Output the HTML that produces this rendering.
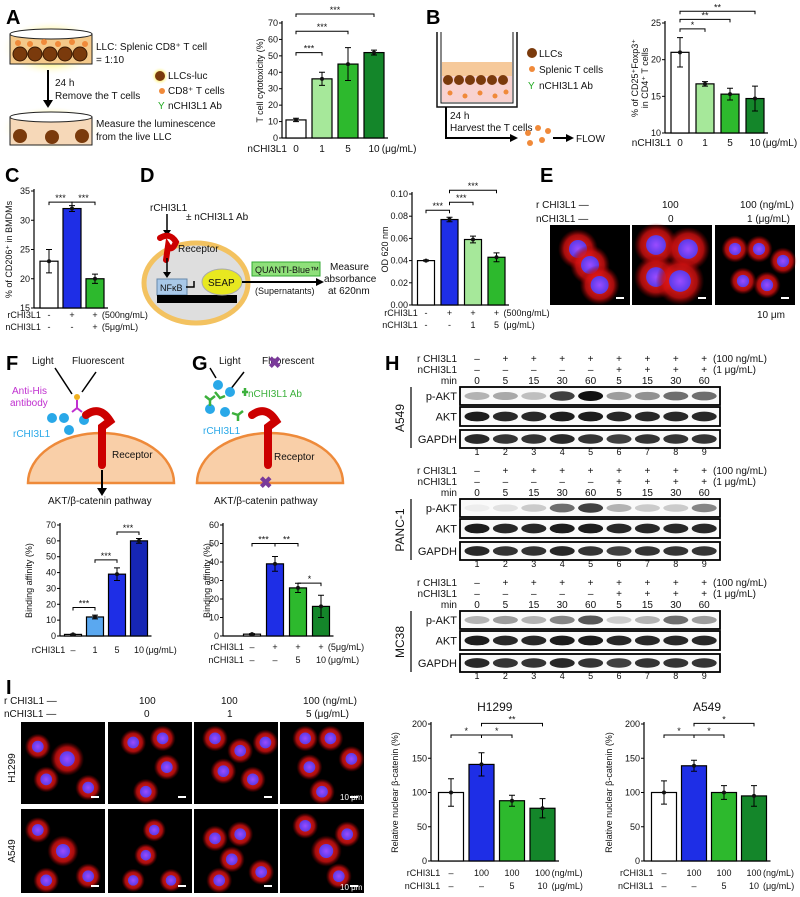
<!DOCTYPE html>
<html><head><meta charset="utf-8">
<style>
html,body{margin:0;padding:0;background:#fff;}
svg{display:block;font-family:"Liberation Sans",Arial,sans-serif;}
.t{font-size:10px;fill:#111;}
.s{font-size:9px;fill:#111;}
.pl{font-size:20px;font-weight:bold;fill:#000;}
</style></head>
<body>
<svg id="fig" width="800" height="897" viewBox="0 0 800 897" xmlns="http://www.w3.org/2000/svg">
<defs>
<radialGradient id="redblob"><stop offset="0" stop-color="#ff2a2a"/><stop offset="0.7" stop-color="#d01010" stop-opacity="0.8"/><stop offset="1" stop-color="#800" stop-opacity="0"/></radialGradient>
<radialGradient id="nuc"><stop offset="0" stop-color="#9a4cff"/><stop offset="1" stop-color="#5a3ae8"/></radialGradient>
<radialGradient id="glow"><stop offset="0.6" stop-color="#fff7a0"/><stop offset="1" stop-color="#fff" stop-opacity="0"/></radialGradient>
</defs>

<!-- panel letters -->
<g>
<text class="pl" x="6" y="24">A</text><text class="pl" x="426" y="24">B</text>
<text class="pl" x="5" y="182">C</text><text class="pl" x="140" y="182">D</text>
<text class="pl" x="540" y="182">E</text><text class="pl" x="6" y="370">F</text>
<text class="pl" x="192" y="370">G</text><text class="pl" x="385" y="370">H</text>
<text class="pl" x="6" y="694">I</text>
</g>

<!-- A schematic -->
<g>
<ellipse cx="51" cy="48" rx="50" ry="28" fill="url(#glow)"/>
<rect x="10" y="34" width="82" height="30" fill="#f4c98a" stroke="#222"/>
<ellipse cx="51" cy="34" rx="41" ry="5" fill="#fff" stroke="#222"/>
<g fill="#7a3a0c" stroke="#3a1a04"><circle cx="20" cy="54" r="7"/><circle cx="35" cy="54" r="7"/><circle cx="50" cy="54" r="7"/><circle cx="65" cy="54" r="7"/><circle cx="80" cy="54" r="7"/></g>
<g fill="#f08a3a"><circle cx="18" cy="43" r="3"/><circle cx="30" cy="44" r="3"/><circle cx="44" cy="42" r="3"/><circle cx="58" cy="44" r="3"/><circle cx="72" cy="42" r="3"/><circle cx="85" cy="44" r="3"/></g>
<text class="t" x="96" y="50">LLC: Splenic CD8⁺ T cell</text><text class="t" x="96" y="63">= 1:10</text>
<line x1="48" y1="70" x2="48" y2="102" stroke="#000" stroke-width="2"/><polygon points="43,100 53,100 48,108" fill="#000"/>
<text class="t" x="55" y="86">24 h</text><text class="t" x="55" y="99">Remove the T cells</text>
<circle cx="160" cy="76" r="9" fill="url(#glow)"/><circle cx="160" cy="76" r="5" fill="#7a3a0c"/><text class="t" x="168" y="79">LLCs-luc</text>
<circle cx="162" cy="91" r="3" fill="#f08a3a"/><text class="t" x="168" y="94">CD8⁺ T cells</text>
<text class="t" x="158" y="109" fill="#2a2" style="fill:#2a2">Y</text><text class="t" x="168" y="109">nCHI3L1 Ab</text>
<ellipse cx="51" cy="128" rx="50" ry="22" fill="url(#glow)"/>
<rect x="10" y="117" width="82" height="28" fill="#f6d8b8" stroke="#222"/>
<ellipse cx="51" cy="117" rx="41" ry="5" fill="#fff" stroke="#222"/>
<g fill="#7a3a0c"><circle cx="20" cy="136" r="7"/><circle cx="52" cy="137" r="7"/><circle cx="82" cy="136" r="7"/></g>
<text class="t" x="96" y="127">Measure the luminescence</text><text class="t" x="96" y="140">from the live LLC</text>
</g>

<!-- B schematic -->
<g>
<path d="M437,32 V107 H517 V32" fill="none" stroke="#111" stroke-width="1.5"/>
<path d="M441,32 V103 H513 V32" fill="none" stroke="#111" stroke-width="1"/>
<rect x="442" y="62" width="70" height="14" fill="#f6c99a"/>
<rect x="442" y="76" width="70" height="26" fill="#f8d2d0"/>
<g fill="#7a3a0c"><circle cx="448" cy="80" r="5"/><circle cx="459" cy="80" r="5"/><circle cx="470" cy="80" r="5"/><circle cx="481" cy="80" r="5"/><circle cx="492" cy="80" r="5"/><circle cx="503" cy="80" r="5"/></g>
<g fill="#f08a3a"><circle cx="450" cy="93" r="2.5"/><circle cx="465" cy="96" r="2.5"/><circle cx="480" cy="93" r="2.5"/><circle cx="495" cy="96" r="2.5"/><circle cx="506" cy="92" r="2.5"/></g>
<circle cx="532" cy="53" r="5" fill="#7a3a0c"/><text class="t" x="539" y="57">LLCs</text>
<circle cx="532" cy="69" r="3" fill="#f08a3a"/><text class="t" x="539" y="73">Splenic T cells</text>
<text class="t" x="528" y="89" style="fill:#2a2">Y</text><text class="t" x="539" y="89">nCHI3L1 Ab</text>
<path d="M446,107 V138 H512" fill="none" stroke="#000" stroke-width="2"/><polygon points="510,134 518,138 510,142" fill="#000"/>
<text class="t" x="450" y="119">24 h</text><text class="t" x="450" y="131">Harvest the T cells</text>
<g fill="#f08a3a"><circle cx="528" cy="133" r="3"/><circle cx="538" cy="128" r="3"/><circle cx="530" cy="143" r="3"/><circle cx="542" cy="140" r="3"/><circle cx="548" cy="131" r="3"/></g>
<line x1="553" y1="138" x2="568" y2="138" stroke="#000" stroke-width="2"/><polygon points="566,134 574,138 566,142" fill="#000"/>
<text class="t" x="576" y="142">FLOW</text>
</g>

<!-- D schematic -->
<g>
<text class="t" x="150" y="211">rCHI3L1</text><text class="t" x="186" y="220">± nCHI3L1 Ab</text>
<line x1="167" y1="214" x2="167" y2="232" stroke="#000" stroke-width="1.5"/><polygon points="163,230 171,230 167,236" fill="#000"/>
<ellipse cx="196" cy="283" rx="52" ry="40" fill="#dedede" stroke="#f3c260" stroke-width="5"/>
<path d="M160,238 q10,-6 16,4 q-4,10 -8,4 l-2,14" fill="none" stroke="#c00" stroke-width="6" stroke-linecap="round"/>
<text class="t" x="178" y="252">Receptor</text>
<line x1="167" y1="258" x2="167" y2="274" stroke="#000" stroke-width="1.5"/><polygon points="163,272 171,272 167,278" fill="#000"/>
<rect x="157" y="279" width="30" height="16" fill="#a8c8e8" stroke="#6688aa"/><text class="s" x="160" y="291">NFκB</text>
<rect x="157" y="295" width="80" height="8" fill="#000"/>
<path d="M186,287 h8 v-6" fill="none" stroke="#000" stroke-width="1.5"/>
<ellipse cx="222" cy="282" rx="20" ry="13" fill="#e8e820" stroke="#aaa"/><text class="t" x="208" y="286">SEAP</text>
<line x1="242" y1="282" x2="318" y2="282" stroke="#000" stroke-width="2"/><polygon points="316,278 324,282 316,286" fill="#000"/>
<rect x="252" y="262" width="68" height="14" fill="#8fe07a" stroke="#3a3"/><text class="s" x="255" y="273">QUANTI-Blue™</text>
<text class="s" x="255" y="294">(Supernatants)</text>
<text class="t" x="330" y="270">Measure</text><text class="t" x="324" y="282">absorbance</text><text class="t" x="328" y="294">at 620nm</text>
</g>

<!-- E images -->
<g>
<text class="t" x="536" y="208">r CHI3L1 —</text><text class="t" x="536" y="222">nCHI3L1 —</text>
<text class="t" x="662" y="208">100</text><text class="t" x="740" y="208">100 (ng/mL)</text>
<text class="t" x="668" y="222">0</text><text class="t" x="747" y="222">1  (μg/mL)</text>
<text class="t" x="757" y="318">10 μm</text>
</g>
<g id="eimgs"></g>

<!-- F & G schematics -->
<g>
<text class="t" x="32" y="364">Light</text><text class="t" x="72" y="364">Fluorescent</text>
<line x1="55" y1="368" x2="72" y2="394" stroke="#000" stroke-width="1.5"/><line x1="82" y1="392" x2="96" y2="372" stroke="#000" stroke-width="1.5"/>
<path d="M28,483 A73,50 0 0 1 174,483 Z" fill="#f9cfa8" stroke="#ee8a3a" stroke-width="2.5"/>
<text class="t" x="12" y="394" style="fill:#c030d0">Anti-His</text><text class="t" x="10" y="406" style="fill:#c030d0">antibody</text>
<circle cx="77" cy="397" r="3" fill="#f0b020"/><path d="M77,400 v8 l-5,4 M77,408 l5,4" stroke="#c030d0" stroke-width="2" fill="none"/>
<g fill="#29a8e8"><circle cx="52" cy="418" r="5"/><circle cx="64" cy="418" r="5"/><circle cx="69" cy="430" r="5"/><circle cx="84" cy="420" r="5"/></g>
<text class="t" x="13" y="437" style="fill:#29a8e8">rCHI3L1</text>
<path d="M86,415 q14,-10 24,6 l-8,6 v38" fill="none" stroke="#c00" stroke-width="8" stroke-linecap="round"/>
<text class="t" x="112" y="458">Receptor</text>
<line x1="102" y1="470" x2="102" y2="490" stroke="#000" stroke-width="2"/><polygon points="97,488 107,488 102,496" fill="#000"/>
<text class="t" x="48" y="504">AKT/β-catenin pathway</text>
</g>
<g>
<text class="t" x="219" y="364">Light</text><text class="t" x="262" y="364">Fluorescent</text>
<text x="268" y="368" style="font-size:16px;fill:#7a3a9a;font-weight:bold">✖</text>
<line x1="210" y1="368" x2="216" y2="378" stroke="#000" stroke-width="1.5"/><line x1="230" y1="390" x2="244" y2="372" stroke="#000" stroke-width="1.5"/>
<path d="M197,483 A73,50 0 0 1 343,483 Z" fill="#f9cfa8" stroke="#ee8a3a" stroke-width="2.5"/>
<g fill="#29a8e8"><circle cx="218" cy="385" r="5"/><circle cx="230" cy="392" r="5"/><circle cx="210" cy="409" r="5"/><circle cx="225" cy="412" r="5"/></g>
<g stroke="#3cb03c" stroke-width="2.5" fill="none"><path d="M205,396 l5,4 l5,-4 M210,400 v6"/><path d="M215,392 l5,6 l5,-2"/><path d="M242,392 l6,0 M245,388 v8"/><path d="M232,413 l6,2 l5,-4 M238,415 v6"/></g>
<text class="t" x="248" y="397" style="fill:#3cb03c">nCHI3L1 Ab</text>
<text class="t" x="203" y="434" style="fill:#29a8e8">rCHI3L1</text>
<path d="M252,415 q14,-10 24,6 l-8,6 v38" fill="none" stroke="#c00" stroke-width="8" stroke-linecap="round"/>
<text class="t" x="274" y="460">Receptor</text>
<text x="259" y="488" style="font-size:16px;fill:#7a3a9a;font-weight:bold">✖</text>
<text class="t" x="214" y="504">AKT/β-catenin pathway</text>
</g>

<!-- I header -->
<g>
<text class="t" x="4" y="704">r CHI3L1  —</text><text class="t" x="4" y="717">nCHI3L1  —</text>
<text class="t" x="139" y="704">100</text><text class="t" x="221" y="704">100</text><text class="t" x="303" y="704">100 (ng/mL)</text>
<text class="t" x="144" y="717">0</text><text class="t" x="227" y="717">1</text><text class="t" x="306" y="717">5  (μg/mL)</text>
<text class="t" transform="translate(15,768) rotate(-90)" text-anchor="middle">H1299</text>
<text class="t" transform="translate(15,851) rotate(-90)" text-anchor="middle">A549</text>
</g>
<g id="iimgs"></g>
<g id="blots"></g>
<g id="charts"></g>
</svg>

<script>
// ---------- Chart data ----------
const aCategories=['0','1','5','10'];
const aValues=[11,36,45,52];
const aErrors=[1,4,10,1.5];
const aTicks=[0,10,20,30,40,50,60,70];
const aSig=[[0,1,52,'***'],[0,2,65,'***'],[0,3,75.5,'***']];

const bCategories=['0','1','5','10'];
const bValues=[21,16.7,15.3,14.7];
const bErrors=[2,0.3,0.8,1.7];
const bTicks=[10,15,20,25];
const bSig=[[0,1,24.2,'*'],[0,2,25.5,'**'],[0,3,26.6,'**']];

const cRow1=['-','+','+'];
const cRow2=['-','-','+'];
const cValues=[23,32,20];
const cErrors=[2,0.5,0.8];
const cTicks=[15,20,25,30,35];
const cSig=[[0,1,33.1,'***'],[1,2,33.1,'***']];

const dRow1=['-','+','+','+'];
const dRow2=['-','-','1','5'];
const dValues=[0.040,0.077,0.059,0.043];
const dErrors=[0.0005,0.002,0.003,0.004];
const dTicks=[0,0.02,0.04,0.06,0.08,0.10];
const dSig=[[0,1,0.0854,'***'],[1,2,0.0926,'***'],[1,3,0.1034,'***']];

const fCategories=['–','1','5','10'];
const fValues=[1,12,39,60];
const fErrors=[0.3,1.2,4,1.5];
const fTicks=[0,10,20,30,40,50,60,70];
const fSig=[[0,1,18,'***'],[1,2,48,'***'],[2,3,65.6,'***']];

const gRow1=['–','+','+','+'];
const gRow2=['–','–','5','10'];
const gValues=[1,39,26,16];
const gErrors=[0.3,4,2.5,6];
const gTicks=[0,10,20,30,40,50,60];
const gSig=[[0,1,50,'***'],[1,2,50,'**'],[2,3,28.6,'*']];

const iRow1=['–','100','100','100'];
const iRow2=['–','–','5','10'];
const h1299Values=[100,141,88,77];
const h1299Errors=[20,17,8,14];
const a549Values=[100,139,100,95];
const a549Errors=[17,8,10,15];
const iTicks=[0,50,100,150,200];
const h1299Sig=[[0,1,184,'*'],[1,2,184,'*'],[1,3,201,'**']];
const a549Sig=[[0,1,184,'*'],[1,2,184,'*'],[1,3,201,'*']];

// western blot lane intensities
const hLanes=['1','2','3','4','5','6','7','8','9'];
const hRow1=['–','+','+','+','+','+','+','+','+'];
const hRow2=['–','–','–','–','–','+','+','+','+'];
const hMin=['0','5','15','30','60','5','15','30','60'];
const a549PAkt=[0.3,0.35,0.25,0.8,1,0.4,0.45,0.6,0.6];
const panc1PAkt=[0.05,0.1,0.2,0.6,0.8,0.3,0.2,0.2,0.5];
const mc38PAkt=[0.3,0.4,0.3,0.5,0.7,0.2,0.3,0.6,0.4];
const aktLevels=[0.95,0.9,0.9,0.95,0.95,0.9,0.9,0.9,0.9];
const gapdhLevels=[0.9,0.85,0.85,0.9,0.85,0.8,0.85,0.85,0.85];

const W='#ffffff',LG='#a6e89a',G='#2db92d',DG='#14862a',B='#1e2ee6',LB='#5aa8f0',DB='#1626b4';
const NS='http://www.w3.org/2000/svg';
function mk(tag,attrs,parent){const e=document.createElementNS(NS,tag);for(const k in attrs)e.setAttribute(k,attrs[k]);parent.appendChild(e);return e;}

function chart(c){
  const root=document.getElementById('charts');
  const g=mk('g',{},root);
  
  
  const y=v=>c.y0-(v-c.min)/(c.max-c.min)*(c.y0-c.yTop);
  const x=i=>c.x1+i*c.step;
  mk('line',{x1:c.ax,y1:c.yTop-2,x2:c.ax,y2:c.y0,stroke:'#000','stroke-width':1.2},g);
  mk('line',{x1:c.ax,y1:c.y0,x2:x(c.values.length-1)+c.bw/2+4,y2:c.y0,stroke:'#000','stroke-width':1.2},g);
  c.ticks.forEach(t=>{
    mk('line',{x1:c.ax-3,y1:y(t),x2:c.ax,y2:y(t),stroke:'#000'},g);
    const tx=mk('text',{x:c.ax-4,y:y(t)+3,'text-anchor':'end',class:'s'},g);
    
    
    tx.textContent=c.fmt?c.fmt(t):t;
  });
  c.values.forEach((v,i)=>{
    const r=mk('rect',{x:x(i)-c.bw/2,y:y(v),width:c.bw,height:c.y0-y(v),fill:c.colors[i],stroke:'#000','stroke-width':1.2},g);
    
    
    const e=c.errors[i];
    const eb=mk('path',{d:`M${x(i)},${y(v-e)}V${y(v+e)}M${x(i)-3},${y(v+e)}h6M${x(i)-3},${y(v-e)}h6`,stroke:'#000','stroke-width':1,fill:'none'},g);
    
    
    const d=mk('circle',{cx:x(i),cy:y(v),r:2,fill:'#111'},g);
    
    
  });
  c.sig.forEach(s=>{
    const yy=y(s[2]);
    const br=mk('path',{d:`M${x(s[0])},${yy+3}V${yy}H${x(s[1])}V${yy+3}`,stroke:'#000',fill:'none'},g);
    
    
    const st=mk('text',{x:(x(s[0])+x(s[1]))/2,y:yy-1,'text-anchor':'middle',class:'s'},g);
    
    
    st.textContent=s[3];
  });
  c.rows.forEach(rw=>{
    const tl=mk('text',{x:c.x1-c.step*0.35,y:rw.y,'text-anchor':'end',class:rw.cls||'s'},g);
    
    
    tl.textContent=rw.title;
    rw.labels.forEach((l,i)=>{
      const t=mk('text',{x:x(i),y:rw.y,'text-anchor':'middle',class:rw.cls||'s'},g);
      
      
      t.textContent=l;
    });
    if(rw.unit){const u=mk('text',{x:x(rw.labels.length-1)+c.step*0.3,y:rw.y,class:rw.cls||'s'},g);
      
      
      u.textContent=rw.unit;}
  });
  c.ylabel.forEach((l,k)=>{
    const yl=mk('text',{transform:`translate(${c.ylx+k*10},${(c.y0+c.yTop)/2}) rotate(-90)`,'text-anchor':'middle',class:'s'},g);
    
    
    yl.textContent=l;
  });
  if(c.title){const tt=mk('text',{x:(c.ax+x(c.values.length-1))/2+8,y:c.title[1],'text-anchor':'middle',class:'t',style:'font-size:12px'},g);
    
    
    tt.textContent=c.title[0];}
}

chart({name:'chart-a-cytotoxicity',ax:282,y0:138,yTop:23,min:0,max:70,ticks:aTicks,x1:296,step:26,bw:20,values:aValues,errors:aErrors,colors:[W,LG,G,DG],sig:aSig,rows:[{title:'nCHI3L1',labels:aCategories,y:152,unit:'(μg/mL)',cls:'t'}],ylabel:['T cell cytotoxicity (%)'],ylx:263});
chart({name:'chart-b-treg',ax:665,y0:133,yTop:23,min:10,max:25,ticks:bTicks,x1:680,step:25,bw:18,values:bValues,errors:bErrors,colors:[W,LG,G,DG],sig:bSig,rows:[{title:'nCHI3L1',labels:bCategories,y:146,unit:'(μg/mL)',cls:'t'}],ylabel:['% of CD25⁺Foxp3⁺','in CD4⁺ T cells'],ylx:638});
chart({name:'chart-c-cd206',ax:34,y0:308,yTop:191,min:15,max:35,ticks:cTicks,x1:49,step:23,bw:18,values:cValues,errors:cErrors,colors:[W,B,G],sig:cSig,rows:[{title:'rCHI3L1',labels:cRow1,y:318,unit:'(500ng/mL)'},{title:'nCHI3L1',labels:cRow2,y:330,unit:'(5μg/mL)'}],ylabel:['% of CD206⁺ in BMDMs'],ylx:12});
chart({name:'chart-d-od620',ax:412,y0:305,yTop:194,min:0,max:0.10,ticks:dTicks,fmt:t=>t.toFixed(2),x1:426,step:23.5,bw:17,values:dValues,errors:dErrors,colors:[W,B,LG,G],sig:dSig,rows:[{title:'rCHI3L1',labels:dRow1,y:316,unit:'(500ng/mL)'},{title:'nCHI3L1',labels:dRow2,y:328,unit:'(μg/mL)'}],ylabel:['OD 620 nm'],ylx:388});
chart({name:'chart-f-binding',ax:60,y0:636,yTop:525,min:0,max:70,ticks:fTicks,x1:73,step:22,bw:17,values:fValues,errors:fErrors,colors:[W,LB,B,DB],sig:fSig,rows:[{title:'rCHI3L1',labels:fCategories,y:653,unit:'(μg/mL)'}],ylabel:['Binding affinity (%)'],ylx:32});
chart({name:'chart-g-binding',ax:223,y0:636,yTop:525,min:0,max:60,ticks:gTicks,x1:252,step:23,bw:17,values:gValues,errors:gErrors,colors:[W,B,G,DG],sig:gSig,rows:[{title:'rCHI3L1',labels:gRow1,y:650,unit:'(5μg/mL)'},{title:'nCHI3L1',labels:gRow2,y:663,unit:'(μg/mL)'}],ylabel:['Binding affinity (%)'],ylx:210});
chart({name:'chart-i-h1299',ax:431,y0:861,yTop:724,min:0,max:200,ticks:iTicks,x1:451,step:30.5,bw:25,values:h1299Values,errors:h1299Errors,colors:[W,B,G,DG],sig:h1299Sig,rows:[{title:'rCHI3L1',labels:iRow1,y:876,unit:'(ng/mL)'},{title:'nCHI3L1',labels:iRow2,y:889,unit:'(μg/mL)'}],ylabel:['Relative nuclear β-catenin (%)'],ylx:398,title:['H1299',711]});
chart({name:'chart-i-a549',ax:644,y0:861,yTop:724,min:0,max:200,ticks:iTicks,x1:664,step:30,bw:25,values:a549Values,errors:a549Errors,colors:[W,B,G,DG],sig:a549Sig,rows:[{title:'rCHI3L1',labels:iRow1,y:876,unit:'(ng/mL)'},{title:'nCHI3L1',labels:iRow2,y:889,unit:'(μg/mL)'}],ylabel:['Relative nuclear β-catenin (%)'],ylx:612,title:['A549',711]});

// ---------- Western blots ----------
function blotSection(name,top,pakt){
  const root=document.getElementById('blots');
  const g=mk('g',{},root);
  
  
  const lx=i=>477+i*28.4;
  const hdr=[['r CHI3L1',hRow1,'(100 ng/mL)'],['nCHI3L1',hRow2,'(1 μg/mL)'],['min',hMin,'']];
  hdr.forEach((h,k)=>{
    const yy=top+4+k*11;
    const t=mk('text',{x:457,y:yy,'text-anchor':'end',class:'t'},g);t.textContent=h[0];
    h[1].forEach((v,i)=>{const tt=mk('text',{x:lx(i),y:yy,'text-anchor':'middle',class:'t'},g);tt.textContent=v;});
    if(h[2]){const u=mk('text',{x:713,y:yy,class:'t'},g);u.textContent=h[2];}
  });
  const rows=[['p-AKT',top+29,18,pakt],['AKT',top+49,19,aktLevels],['GAPDH',top+72,18,gapdhLevels]];
  rows.forEach(r=>{
    mk('rect',{x:460,y:r[1],width:260,height:r[2],fill:'#fafafa',stroke:'#000','stroke-width':1.8},g);
    const t=mk('text',{x:457,y:r[1]+r[2]/2+4,'text-anchor':'end',class:'t',style:'font-size:11px'},g);t.textContent=r[0];
    r[3].forEach((v,i)=>{
      const b=mk('ellipse',{cx:lx(i),cy:r[1]+r[2]/2,rx:12.5,ry:3.5+v*1.5,fill:'#111','fill-opacity':v},g);
      
      
    });
  });
  hLanes.forEach((l,i)=>{const t=mk('text',{x:lx(i),y:top+97,'text-anchor':'middle',class:'s'},g);t.textContent=l;});
  mk('line',{x1:411,y1:top+29,x2:411,y2:top+90,stroke:'#000','stroke-width':1.2},g);
  const cl=mk('text',{transform:`translate(404,${top+60}) rotate(-90)`,'text-anchor':'middle',class:'t',style:'font-size:12px'},g);cl.textContent=name;
}
blotSection('A549',358,a549PAkt);
blotSection('PANC-1',470,panc1PAkt);
blotSection('MC38',582,mc38PAkt);

// ---------- fluorescence images ----------
function fluoro(parentId,x,y,w,h,cells,scale){
  const p=document.getElementById(parentId);
  const g=mk('g',{},p);
  
  
  mk('rect',{x:x,y:y,width:w,height:h,fill:'#000'},g);
  cells.forEach(c=>{
    mk('circle',{cx:x+c[0]*w,cy:y+c[1]*h,r:c[2]*scale,fill:'url(#redblob)'},g);
    mk('circle',{cx:x+c[0]*w,cy:y+c[1]*h,r:c[2]*scale*0.45,fill:'url(#nuc)'},g);
  });
  if(scale){mk('rect',{x:x+w-14,y:y+h-8,width:8,height:2,fill:'#fff'},g);}
}
fluoro('eimgs',550,225,80,80,[[0.35,0.3,1],[0.5,0.5,1],[0.62,0.75,1]],20);
fluoro('eimgs',632,225,80,80,[[0.3,0.25,1],[0.7,0.3,1],[0.3,0.65,1],[0.6,0.7,1.1]],22);
fluoro('eimgs',715,225,80,80,[[0.25,0.3,0.8],[0.55,0.3,0.8],[0.85,0.45,0.8],[0.35,0.7,0.8],[0.65,0.75,0.8]],17);
const iCols=[21,108,194,280];
const cellsH=[[[0.2,0.3,1],[0.55,0.45,1.3],[0.3,0.7,1],[0.8,0.8,1]],[[0.3,0.25,1],[0.65,0.2,1],[0.7,0.55,1],[0.45,0.85,1]],[[0.25,0.2,1],[0.55,0.35,1],[0.35,0.6,1],[0.7,0.7,1],[0.85,0.25,1]],[[0.3,0.2,1],[0.6,0.2,1],[0.85,0.45,1],[0.35,0.55,1],[0.5,0.85,1]]];
const cellsA=[[[0.2,0.25,1],[0.5,0.5,1.2],[0.3,0.85,1],[0.8,0.8,1]],[[0.55,0.25,0.9],[0.45,0.55,0.9],[0.3,0.85,0.9],[0.75,0.85,0.9]],[[0.25,0.35,1],[0.55,0.3,1],[0.45,0.6,1],[0.8,0.75,1],[0.3,0.85,1]],[[0.3,0.2,1],[0.55,0.5,1.2],[0.8,0.3,1],[0.7,0.8,1]]];
iCols.forEach((cx,i)=>{fluoro('iimgs',cx,722,84,82,cellsH[i],13);fluoro('iimgs',cx,809,84,84,cellsA[i],13);});
(function(){const p=document.getElementById('iimgs');
 const t1=mk('text',{x:340,y:800,class:'s',style:'fill:#fff;font-size:8px'},p);t1.textContent='10 μm';
 const t2=mk('text',{x:340,y:890,class:'s',style:'fill:#fff;font-size:8px'},p);t2.textContent='10 μm';})();
</script>
</body></html>
